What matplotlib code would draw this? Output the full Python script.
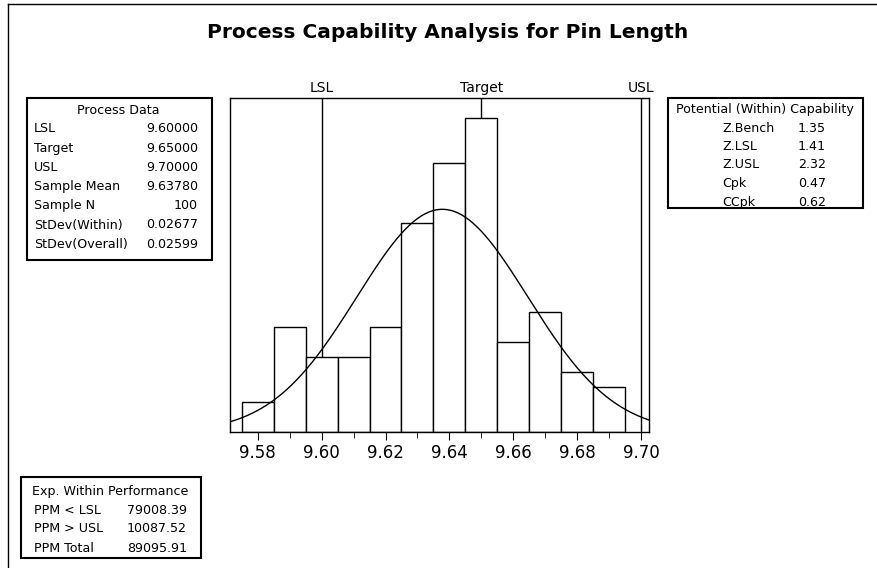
import numpy as np
import matplotlib.pyplot as plt
from matplotlib.patches import Rectangle
from matplotlib.lines import Line2D

# histogram of pin lengths
bin_centers = [9.58, 9.59, 9.60, 9.61, 9.62, 9.63, 9.64, 9.65, 9.66, 9.67, 9.68, 9.69]
counts = [2, 7, 5, 5, 7, 14, 18, 21, 6, 8, 4, 3]
bin_width = 0.01

# spec limits
spec_names = ['LSL', 'Target', 'USL']
spec_values = [9.60, 9.65, 9.70]

# fitted within-normal
sample_mean = 9.6378
stdev_within = 0.02677
sample_n = 100

process_labels = ['LSL', 'Target', 'USL', 'Sample Mean', 'Sample N', 'StDev(Within)', 'StDev(Overall)']
process_values = ['9.60000', '9.65000', '9.70000', '9.63780', '100', '0.02677', '0.02599']

cap_labels = ['Z.Bench', 'Z.LSL', 'Z.USL', 'Cpk', 'CCpk']
cap_values = ['1.35', '1.41', '2.32', '0.47', '0.62']

perf_labels = ['PPM < LSL', 'PPM > USL', 'PPM Total']
perf_values = ['79008.39', '10087.52', '89095.91']

W, H = 878, 568
fig = plt.figure(figsize=(W / 100, H / 100), dpi=100)
box_fs = 9.1


def fx(px):
    return px / W


def fy(py):
    return 1 - py / H


# outer frame (only left and top edges show)
fig.add_artist(Line2D([fx(8), fx(8)], [fy(4), 0], transform=fig.transFigure, color='black', lw=1))
fig.add_artist(Line2D([fx(8), 1], [fy(4), fy(4)], transform=fig.transFigure, color='black', lw=1))

fig.text(fx(448), fy(32), 'Process Capability Analysis for Pin Length', ha='center', va='center',
         fontsize=14.5, fontweight='bold')

ax = fig.add_axes([fx(230), fy(432), fx(649) - fx(230), (432 - 98) / H])

# spec lines behind the bars
for name, val in zip(spec_names, spec_values):
    ax.axvline(val, color='black', lw=1, zorder=1)
    ax.text(val, 1.008, name, transform=ax.get_xaxis_transform(), ha='center', va='bottom', fontsize=10)

ax.bar(bin_centers, counts, width=bin_width, color='white', edgecolor='black', lw=1, zorder=2)

xs = np.linspace(9.5713, 9.7025, 300)
pdf = np.exp(-0.5 * ((xs - sample_mean) / stdev_within) ** 2) / (stdev_within * np.sqrt(2 * np.pi))
ax.plot(xs, pdf * sample_n * bin_width, color='black', lw=1, zorder=3)

ax.set_xlim(9.5713, 9.7025)
ax.set_ylim(0, 22.35)
ax.set_yticks([])
ax.set_xticks([9.58, 9.60, 9.62, 9.64, 9.66, 9.68, 9.70])
ax.set_xticklabels(['9.58', '9.60', '9.62', '9.64', '9.66', '9.68', '9.70'])
ax.set_xticks(np.arange(9.59, 9.70, 0.02), minor=True)
ax.tick_params(axis='x', which='major', length=6, labelsize=12, pad=3)
ax.tick_params(axis='x', which='minor', length=4)
for sp in ax.spines.values():
    sp.set_linewidth(1)


def draw_box(x0, y0, x1, y1):
    fig.add_artist(Rectangle((fx(x0), fy(y1)), fx(x1) - fx(x0), fy(y0) - fy(y1),
                             transform=fig.transFigure, fill=False, ec='black', lw=1.5))


# Process Data box
draw_box(27, 98, 212, 260)
fig.text(fx(118), fy(110), 'Process Data', ha='center', va='center', fontsize=box_fs)
for i, (lab, val) in enumerate(zip(process_labels, process_values)):
    y = 129 + i * 19.2
    fig.text(fx(34), fy(y), lab, ha='left', va='center', fontsize=box_fs)
    fig.text(fx(198), fy(y), val, ha='right', va='center', fontsize=box_fs)

# Potential capability box
draw_box(668, 98, 863, 208)
fig.text(fx(765), fy(110), 'Potential (Within) Capability', ha='center', va='center', fontsize=box_fs)
for i, (lab, val) in enumerate(zip(cap_labels, cap_values)):
    y = 128 + i * 18.5
    fig.text(fx(722), fy(y), lab, ha='left', va='center', fontsize=box_fs)
    fig.text(fx(798), fy(y), val, ha='left', va='center', fontsize=box_fs)

# Expected performance box
draw_box(21, 477, 201, 558)
fig.text(fx(110), fy(492), 'Exp. Within Performance', ha='center', va='center', fontsize=box_fs)
for i, (lab, val) in enumerate(zip(perf_labels, perf_values)):
    y = 510 + i * 19
    fig.text(fx(34), fy(y), lab, ha='left', va='center', fontsize=box_fs)
    fig.text(fx(127), fy(y), val, ha='left', va='center', fontsize=box_fs)

fig.savefig('out.png', dpi=100)
